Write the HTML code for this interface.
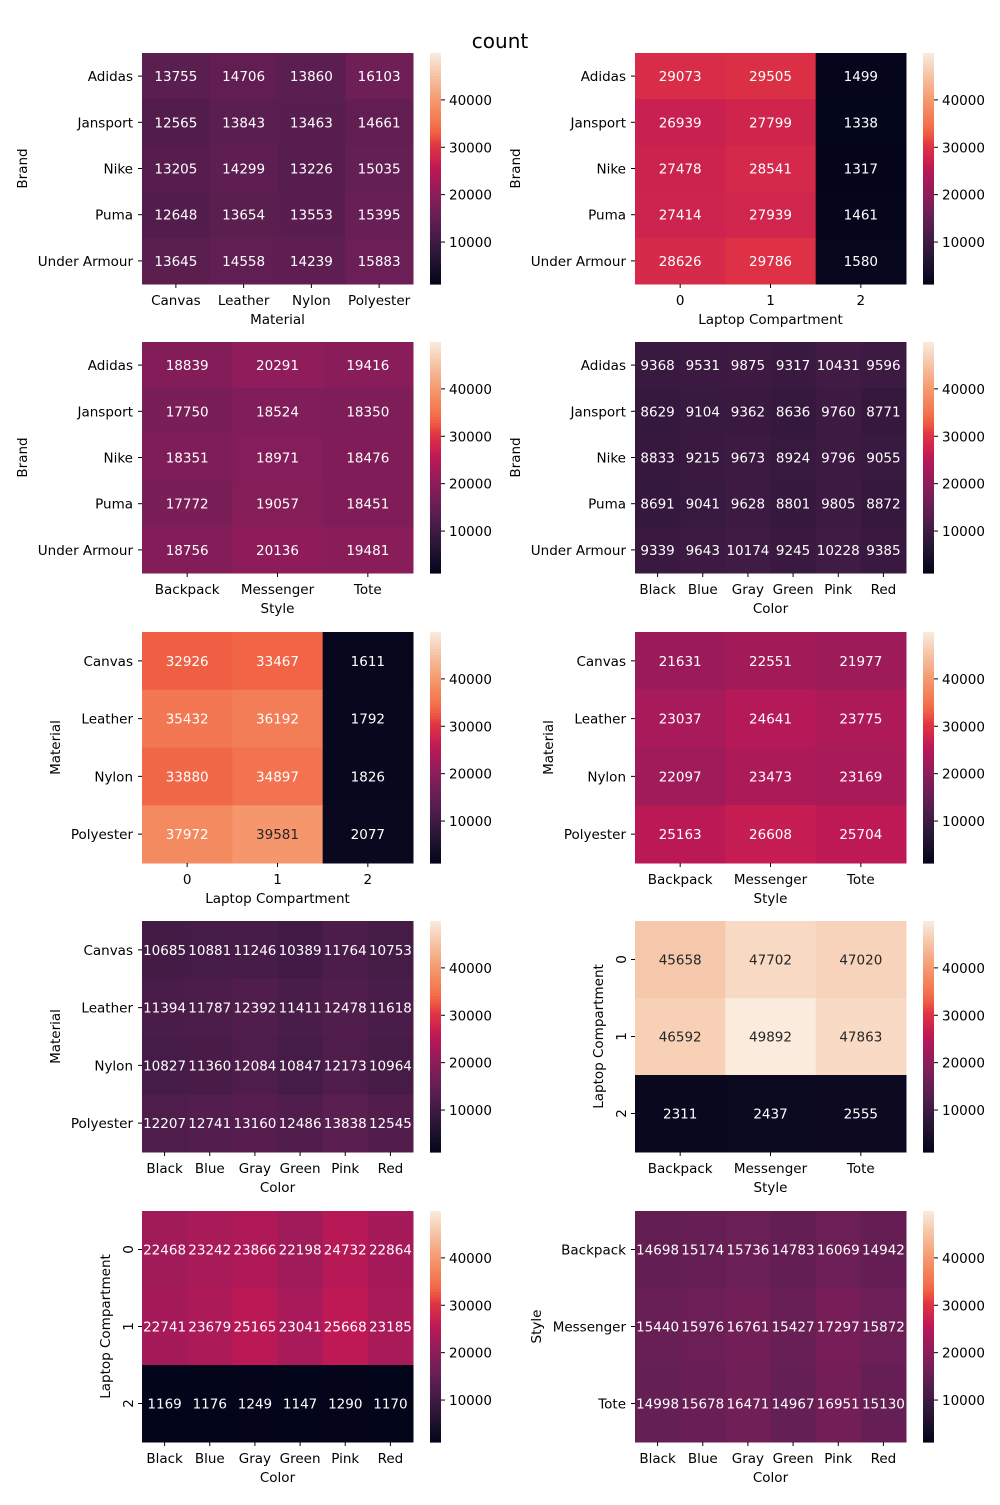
<!DOCTYPE html>
<html><head><meta charset="utf-8"><style>
html,body{margin:0;padding:0;background:#fff;}
svg text{font-family:"DejaVu Sans","Liberation Sans",sans-serif;}
</style></head><body>
<svg id="fig" width="1000" height="1500" viewBox="0 0 1000 1500" xmlns="http://www.w3.org/2000/svg">
<text x="500" y="48" font-size="20" text-anchor="middle" fill="#000">count</text>
</svg>
<script>
const brands = ["Adidas","Jansport","Nike","Puma","Under Armour"];
const materials = ["Canvas","Leather","Nylon","Polyester"];
const laptop = ["0","1","2"];
const styles = ["Backpack","Messenger","Tote"];
const colors = ["Black","Blue","Gray","Green","Pink","Red"];
const cbTicks = [10000,20000,30000,40000];
const vmin = 1147, vmax = 49892;

const brandMaterial = [[13755,14706,13860,16103],[12565,13843,13463,14661],[13205,14299,13226,15035],[12648,13654,13553,15395],[13645,14558,14239,15883]];
const brandLaptop = [[29073,29505,1499],[26939,27799,1338],[27478,28541,1317],[27414,27939,1461],[28626,29786,1580]];
const brandStyle = [[18839,20291,19416],[17750,18524,18350],[18351,18971,18476],[17772,19057,18451],[18756,20136,19481]];
const brandColor = [[9368,9531,9875,9317,10431,9596],[8629,9104,9362,8636,9760,8771],[8833,9215,9673,8924,9796,9055],[8691,9041,9628,8801,9805,8872],[9339,9643,10174,9245,10228,9385]];
const materialLaptop = [[32926,33467,1611],[35432,36192,1792],[33880,34897,1826],[37972,39581,2077]];
const materialStyle = [[21631,22551,21977],[23037,24641,23775],[22097,23473,23169],[25163,26608,25704]];
const materialColor = [[10685,10881,11246,10389,11764,10753],[11394,11787,12392,11411,12478,11618],[10827,11360,12084,10847,12173,10964],[12207,12741,13160,12486,13838,12545]];
const laptopStyle = [[45658,47702,47020],[46592,49892,47863],[2311,2437,2555]];
const laptopColor = [[22468,23242,23866,22198,24732,22864],[22741,23679,25165,23041,25668,23185],[1169,1176,1249,1147,1290,1170]];
const styleColor = [[14698,15174,15736,14783,16069,14942],[15440,15976,16761,15427,17297,15872],[14998,15678,16471,14967,16951,15130]];

const stops = [[0,[3,5,26]],[0.1,[34,19,49]],[0.2,[69,28,71]],[0.3,[106,31,86]],[0.4,[146,28,91]],[0.5,[190,24,86]],[0.6,[226,52,67]],[0.65,[240,93,66]],[0.7,[243,118,81]],[0.75,[244,136,94]],[0.8,[245,154,114]],[0.9,[245,195,163]],[1,[250,235,221]]];
function cmap(v){
  let t=Math.max(0,Math.min(1,(v-vmin)/(vmax-vmin)));
  for(let i=1;i<stops.length;i++){
    if(t<=stops[i][0]){
      const a=stops[i-1],b=stops[i],f=(t-a[0])/(b[0]-a[0]);
      const c=a[1].map((x,k)=>Math.round(x+(b[1][k]-x)*f));
      return `rgb(${c[0]},${c[1]},${c[2]})`;
    }
  }
  return "rgb(250,235,221)";
}
const NS="http://www.w3.org/2000/svg";
const svg=document.getElementById('fig');
function mk(tag,attrs,parent){const e=document.createElementNS(NS,tag);for(const k in attrs)e.setAttribute(k,attrs[k]);(parent||svg).appendChild(e);return e;}

function heat(name,px,py,w,h,rowLabels,colLabels,vals,xlabel,ylabel,ylabX,rotY){
  const g=mk('g',{});
  
  
  const cw=w/colLabels.length, ch=h/rowLabels.length;
  const xs=c=>px+c*cw, ys=r=>py+r*ch;
  vals.forEach((row,r)=>row.forEach((v,c)=>{
    const rect=mk('rect',{x:xs(c),y:ys(r),width:cw+0.5,height:ch+0.5,fill:cmap(v)},g);
    
    
    const t=(v-vmin)/(vmax-vmin);
    const tx=mk('text',{x:xs(c)+cw/2,y:ys(r)+ch/2+5,'font-size':13.5,'text-anchor':'middle',fill:t>0.77?'#262626':'#fff'},g);
    tx.textContent=v;
    
    
  }));
  rowLabels.forEach((l,r)=>{
    const yy=ys(r)+ch/2;
    mk('line',{x1:px-4,x2:px,y1:yy,y2:yy,stroke:'#000','stroke-width':1},g);
    let t;
    if(rotY){t=mk('text',{x:0,y:0,'font-size':13.5,'text-anchor':'middle',fill:'#000',transform:`translate(${px-9},${yy}) rotate(-90)`},g);}
    else{t=mk('text',{x:px-9,y:yy+5,'font-size':13.5,'text-anchor':'end',fill:'#000'},g);}
    t.textContent=l;
    
    
  });
  colLabels.forEach((l,c)=>{
    const xx=xs(c)+cw/2;
    mk('line',{x1:xx,x2:xx,y1:py+h,y2:py+h+4,stroke:'#000','stroke-width':1},g);
    const t=mk('text',{x:xx,y:py+h+21,'font-size':13.5,'text-anchor':'middle',fill:'#000'},g);
    t.textContent=l;
    
    
  });
  const xt=mk('text',{x:px+w/2,y:py+h+40,'font-size':13.5,'text-anchor':'middle',fill:'#000'},g);
  xt.textContent=xlabel;
  
  
  const yt=mk('text',{x:0,y:0,'font-size':13.5,'text-anchor':'middle',fill:'#000',transform:`translate(${ylabX+5},${py+h/2}) rotate(-90)`},g);
  yt.textContent=ylabel;
  
  
  const cx=px+w+17, cbw=11;
  const N=80;
  for(let i=0;i<N;i++){
    const v=vmax-(vmax-vmin)*(i+0.5)/N;
    mk('rect',{x:cx,y:py+h*i/N,width:cbw,height:h/N+0.6,fill:cmap(v)},g);
  }
  const cbY=v=>py+h-(v-vmin)/(vmax-vmin)*h;
  cbTicks.forEach(v=>{
    const yy=cbY(v);
    mk('line',{x1:cx+cbw,x2:cx+cbw+4,y1:yy,y2:yy,stroke:'#000','stroke-width':1},g);
    const t=mk('text',{x:cx+cbw+8,y:yy+5,'font-size':13.5,fill:'#000'},g);
    t.textContent=v;
    
    
  });
}
const L=142,R=635,W=271;
const rowsY=[53,342,632,921,1211], H=231;
heat('heatmap-brand-material',L,rowsY[0],W,H,brands,materials,brandMaterial,'Material','Brand',22,false);
heat('heatmap-brand-laptop',R,rowsY[0],W,H,brands,laptop,brandLaptop,'Laptop Compartment','Brand',515,false);
heat('heatmap-brand-style',L,rowsY[1],W,H,brands,styles,brandStyle,'Style','Brand',22,false);
heat('heatmap-brand-color',R,rowsY[1],W,H,brands,colors,brandColor,'Color','Brand',515,false);
heat('heatmap-material-laptop',L,rowsY[2],W,H,materials,laptop,materialLaptop,'Laptop Compartment','Material',55,false);
heat('heatmap-material-style',R,rowsY[2],W,H,materials,styles,materialStyle,'Style','Material',548,false);
heat('heatmap-material-color',L,rowsY[3],W,H,materials,colors,materialColor,'Color','Material',55,false);
heat('heatmap-laptop-style',R,rowsY[3],W,H,laptop,styles,laptopStyle,'Style','Laptop Compartment',598,true);
heat('heatmap-laptop-color',L,rowsY[4],W,H,laptop,colors,laptopColor,'Color','Laptop Compartment',105,true);
heat('heatmap-style-color',R,rowsY[4],W,H,styles,colors,styleColor,'Color','Style',536,false);
</script>
</body></html>
